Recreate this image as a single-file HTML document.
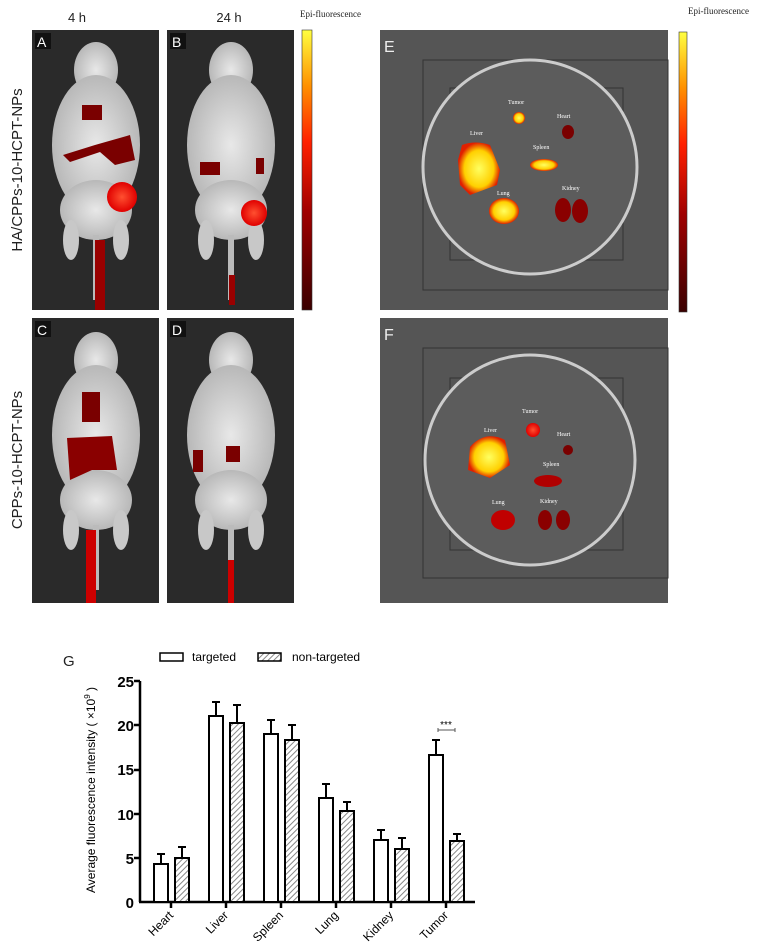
<!DOCTYPE html><html><head><style>body{margin:0;background:#fff}svg{display:block}</style></head><body>
<svg width="761" height="949" viewBox="0 0 761 949" xmlns="http://www.w3.org/2000/svg" font-family="Liberation Sans, sans-serif">
<defs>
<linearGradient id="cb" x1="0" y1="1" x2="0" y2="0"><stop offset="0" stop-color="#3a0000"/><stop offset="0.35" stop-color="#a00000"/><stop offset="0.6" stop-color="#ff2000"/><stop offset="0.8" stop-color="#ff9000"/><stop offset="1" stop-color="#ffff40"/></linearGradient>
<radialGradient id="hot"><stop offset="0" stop-color="#ff5030"/><stop offset="1" stop-color="#e00000"/></radialGradient>
<radialGradient id="yel"><stop offset="0" stop-color="#ffff60"/><stop offset="0.7" stop-color="#ffd000"/><stop offset="1" stop-color="#e02000"/></radialGradient>
<radialGradient id="mouse"><stop offset="0" stop-color="#e8e8e8"/><stop offset="1" stop-color="#b8b8b8"/></radialGradient>
<pattern id="hatch" width="4" height="4" patternUnits="userSpaceOnUse" patternTransform="rotate(45)"><rect width="4" height="4" fill="#fff"/><line x1="0" y1="0" x2="0" y2="4" stroke="#888" stroke-width="2"/></pattern>
<g id="m"><ellipse cx="0" cy="-95" rx="22" ry="28" fill="url(#mouse)"/><ellipse cx="0" cy="-20" rx="44" ry="70" fill="url(#mouse)"/><ellipse cx="0" cy="45" rx="36" ry="30" fill="url(#mouse)"/><ellipse cx="-25" cy="75" rx="8" ry="20" fill="#c8c8c8"/><ellipse cx="25" cy="75" rx="8" ry="20" fill="#c8c8c8"/><rect x="-3" y="70" width="6" height="65" fill="#bbb"/></g>
</defs>
<text x="77" y="22" font-size="13" text-anchor="middle" fill="#222">4 h</text>
<text x="229" y="22" font-size="13" text-anchor="middle" fill="#222">24 h</text>
<text x="300" y="17" font-size="9" font-family="Liberation Serif, serif" fill="#222">Epi-fluorescence</text>
<text x="688" y="14" font-size="9" font-family="Liberation Serif, serif" fill="#222">Epi-fluorescence</text>
<text transform="translate(22,170) rotate(-90)" font-size="15" text-anchor="middle" fill="#222">HA/CPPs-10-HCPT-NPs</text>
<text transform="translate(22,460) rotate(-90)" font-size="15" text-anchor="middle" fill="#222">CPPs-10-HCPT-NPs</text>
<rect x="32" y="30" width="127" height="280" fill="#2a2a2a"/><use href="#m" transform="translate(96,165)"/>
<path d="M63 155 L95 145 L130 135 L135 160 L115 165 L100 152 L70 162Z" fill="#7a0000"/><rect x="82" y="105" width="20" height="15" fill="#7a0000"/>
<circle cx="122" cy="197" r="15" fill="url(#hot)"/><rect x="95" y="240" width="10" height="70" fill="#990000"/>
<rect x="35" y="33" width="16" height="16" fill="#111"/><text x="37" y="47" font-size="14" fill="#fff">A</text>
<rect x="167" y="30" width="127" height="280" fill="#2a2a2a"/><use href="#m" transform="translate(231,165)"/>
<rect x="200" y="162" width="20" height="13" fill="#7a0000"/><rect x="256" y="158" width="8" height="16" fill="#7a0000"/>
<circle cx="254" cy="213" r="13" fill="url(#hot)"/><rect x="229" y="275" width="6" height="30" fill="#990000"/>
<rect x="170" y="33" width="16" height="16" fill="#111"/><text x="172" y="47" font-size="14" fill="#fff">B</text>
<rect x="302" y="30" width="10" height="280" fill="url(#cb)" stroke="#333" stroke-width="0.6"/>
<rect x="32" y="318" width="127" height="285" fill="#2a2a2a"/><use href="#m" transform="translate(96,455)"/>
<path d="M67 438 L112 436 L117 470 L92 470 L70 480Z" fill="#8a0000"/><rect x="82" y="392" width="18" height="30" fill="#7a0000"/><rect x="86" y="530" width="10" height="73" fill="#cc0000"/>
<rect x="35" y="321" width="16" height="16" fill="#111"/><text x="37" y="335" font-size="14" fill="#fff">C</text>
<rect x="167" y="318" width="127" height="285" fill="#2a2a2a"/><use href="#m" transform="translate(231,455)"/>
<rect x="193" y="450" width="10" height="22" fill="#7a0000"/><rect x="226" y="446" width="14" height="16" fill="#7a0000"/><rect x="228" y="560" width="6" height="43" fill="#cc0000"/>
<rect x="170" y="321" width="16" height="16" fill="#111"/><text x="172" y="335" font-size="14" fill="#fff">D</text>
<rect x="380" y="30" width="288" height="280" fill="#555"/>
<rect x="423" y="60" width="245" height="230" fill="none" stroke="#333"/><rect x="450" y="88" width="173" height="172" fill="none" stroke="#333"/>
<circle cx="530" cy="167" r="107" fill="#5c5c5c" stroke="#ccc" stroke-width="3"/>
<path d="M462 145 Q475 140 490 145 L500 170 L497 185 L470 195 L460 185 L458 160Z" fill="url(#yel)"/>
<circle cx="519" cy="118" r="6" fill="url(#yel)"/><ellipse cx="568" cy="132" rx="6" ry="7" fill="#7a0000"/>
<ellipse cx="544" cy="165" rx="14" ry="6" fill="url(#yel)"/>
<ellipse cx="504" cy="211" rx="15" ry="13" fill="url(#yel)"/>
<ellipse cx="563" cy="210" rx="8" ry="12" fill="#8a0000"/><ellipse cx="580" cy="211" rx="8" ry="12" fill="#8a0000"/>
<g font-size="6" fill="#fff" font-family="Liberation Serif, serif"><text x="508" y="104">Tumor</text><text x="557" y="118">Heart</text><text x="470" y="135">Liver</text><text x="533" y="149">Spleen</text><text x="497" y="195">Lung</text><text x="562" y="190">Kidney</text></g>
<text x="384" y="52" font-size="16" fill="#eee">E</text>
<rect x="679" y="32" width="8" height="280" fill="url(#cb)" stroke="#333" stroke-width="0.6"/>
<rect x="380" y="318" width="288" height="285" fill="#555"/>
<rect x="423" y="348" width="245" height="230" fill="none" stroke="#333"/><rect x="450" y="378" width="173" height="172" fill="none" stroke="#333"/>
<circle cx="530" cy="460" r="105" fill="#5c5c5c" stroke="#ccc" stroke-width="3"/>
<path d="M470 447 Q485 430 505 440 L510 465 L490 478 L468 470Z" fill="url(#yel)"/>
<circle cx="533" cy="430" r="7" fill="url(#hot)"/><ellipse cx="568" cy="450" rx="5" ry="5" fill="#7a0000"/>
<ellipse cx="548" cy="481" rx="14" ry="6" fill="#b00000"/>
<ellipse cx="503" cy="520" rx="12" ry="10" fill="#c00000"/>
<ellipse cx="545" cy="520" rx="7" ry="10" fill="#8a0000"/><ellipse cx="563" cy="520" rx="7" ry="10" fill="#8a0000"/>
<g font-size="6" fill="#fff" font-family="Liberation Serif, serif"><text x="522" y="413">Tumor</text><text x="557" y="436">Heart</text><text x="484" y="432">Liver</text><text x="543" y="466">Spleen</text><text x="492" y="504">Lung</text><text x="540" y="503">Kidney</text></g>
<text x="384" y="340" font-size="16" fill="#eee">F</text>
<text x="63" y="666" font-size="15" fill="#222">G</text>
<rect x="160" y="653" width="23" height="8" fill="#fff" stroke="#000" stroke-width="1.5"/><text x="192" y="661" font-size="12">targeted</text>
<rect x="258" y="653" width="23" height="8" fill="url(#hatch)" stroke="#000" stroke-width="1.5"/><text x="292" y="661" font-size="12">non-targeted</text>
<text transform="translate(95,790) rotate(-90)" font-size="12" text-anchor="middle">Average fluorescence intensity ( ×10<tspan font-size="8" dy="-5">9</tspan><tspan dy="5"> )</tspan></text>
<g font-size="15" font-weight="bold" text-anchor="end"><text x="134" y="908">0</text><text x="134" y="864">5</text><text x="134" y="820">10</text><text x="134" y="775">15</text><text x="134" y="731">20</text><text x="134" y="687">25</text></g>
<g stroke="#000" stroke-width="2.5"><line x1="140" y1="681" x2="140" y2="902"/><line x1="139" y1="902" x2="475" y2="902"/>
<line x1="134" y1="681" x2="140" y2="681"/><line x1="134" y1="725" x2="140" y2="725"/><line x1="134" y1="770" x2="140" y2="770"/><line x1="134" y1="814" x2="140" y2="814"/><line x1="134" y1="858" x2="140" y2="858"/>
<line x1="171" y1="902" x2="171" y2="908"/><line x1="226" y1="902" x2="226" y2="908"/><line x1="281" y1="902" x2="281" y2="908"/><line x1="336" y1="902" x2="336" y2="908"/><line x1="391" y1="902" x2="391" y2="908"/><line x1="446" y1="902" x2="446" y2="908"/></g>
<g stroke="#000" stroke-width="2" fill="#fff">
<path d="M161 864V854M157 854H165M182 858V847M178 847H186M216 716V702M212 702H220M237 723V705M233 705H241M271 734V720M267 720H275M292 740V725M288 725H296M326 798V784M322 784H330M347 811V802M343 802H351M381 840V830M377 830H385M402 849V838M398 838H406M436 755V740M432 740H440M457 841V834M453 834H461"/>
<rect x="154" y="864" width="14" height="38"/><rect x="175" y="858" width="14" height="44" fill="url(#hatch)"/>
<rect x="209" y="716" width="14" height="186"/><rect x="230" y="723" width="14" height="179" fill="url(#hatch)"/>
<rect x="264" y="734" width="14" height="168"/><rect x="285" y="740" width="14" height="162" fill="url(#hatch)"/>
<rect x="319" y="798" width="14" height="104"/><rect x="340" y="811" width="14" height="91" fill="url(#hatch)"/>
<rect x="374" y="840" width="14" height="62"/><rect x="395" y="849" width="14" height="53" fill="url(#hatch)"/>
<rect x="429" y="755" width="14" height="147"/><rect x="450" y="841" width="14" height="61" fill="url(#hatch)"/>
</g>
<path d="M438 730H455M438 728V732M455 728V732" stroke="#555" stroke-width="1"/><text x="446" y="728" font-size="10" text-anchor="middle">***</text>
<g font-size="12" text-anchor="end"><text transform="translate(174,916) rotate(-45)">Heart</text><text transform="translate(229,916) rotate(-45)">Liver</text><text transform="translate(284,916) rotate(-45)">Spleen</text><text transform="translate(339,916) rotate(-45)">Lung</text><text transform="translate(394,916) rotate(-45)">Kidney</text><text transform="translate(449,916) rotate(-45)">Tumor</text></g>
</svg></body></html>
